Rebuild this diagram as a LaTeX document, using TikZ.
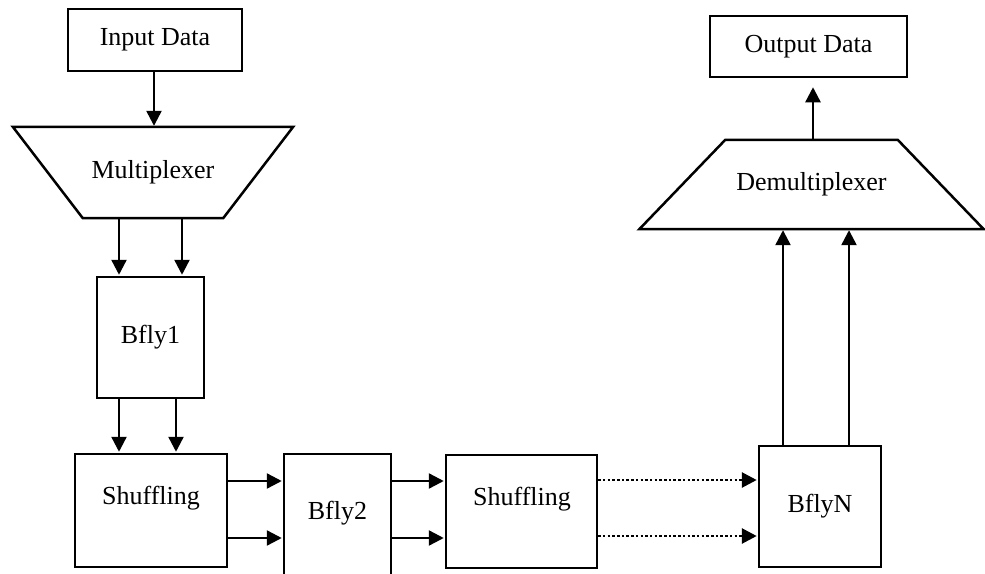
\documentclass[tikz,border=0pt]{standalone}
\usepackage{fontspec}
\setmainfont{Liberation Serif}
\usetikzlibrary{arrows.meta}

\tikzset{
  box/.style={draw, line width=2.5pt, rectangle, inner sep=0pt},
  lbl/.style={inner sep=0pt, font=\fontsize{26}{30}\selectfont},
  arr/.style={line width=2.4pt, shorten >=1pt, -{Triangle[length=15pt, width=15pt]}},
  dotarr/.style={arr, line width=2.8pt, dash pattern=on 2.5pt off 2.2pt},
  trap/.style={line width=2.5pt, line join=miter},
}

\begin{document}
\begin{tikzpicture}[x=1pt, y=-1pt]
  \useasboundingbox (0,0) rectangle (985,573);
  \clip (0,0) rectangle (985,573);

  % input and multiplexer
  \node[box, lbl, minimum width=174pt, minimum height=62pt] (inp) at (155,40) {Input Data};
  \node[lbl, minimum width=280pt, minimum height=91pt] (mux) at (153,172.5) {Multiplexer};
  \draw[trap]
    (mux.north west) -- (mux.north east) -- ([xshift=-70pt]mux.south east)
    -- ([xshift=70pt]mux.south west) -- cycle;

  % butterfly and shuffle stages
  \node[box, lbl, minimum width=107pt, minimum height=121pt] (bfly1) at (150.5,337.5) {Bfly1};
  \node[box, minimum width=152pt, minimum height=113pt] (shuf1) at (151,510.5) {};
  \node[lbl] (shuf1-t) at (151,498) {Shuffling};
  \node[box, minimum width=107pt, minimum height=136pt] (bfly2) at (337.5,522) {};
  \node[lbl] (bfly2-t) at (337.5,513) {Bfly2};
  \node[box, minimum width=151pt, minimum height=113pt] (shuf2) at (521.5,511.5) {};
  \node[lbl] (shuf2-t) at (522,499) {Shuffling};
  \node[box, lbl, minimum width=122pt, minimum height=121pt] (bflyn) at (820,506.5) {BflyN};

  % demultiplexer and output
  \node[lbl, minimum width=344pt, minimum height=89pt] (demux) at (811.5,184.5) {Demultiplexer};
  \draw[trap]
    (demux.south west) -- (demux.south east) -- ([xshift=-86pt]demux.north east)
    -- ([xshift=86pt]demux.north west) -- cycle;
  \node[box, lbl, minimum width=197pt, minimum height=61pt] (out) at (808.5,46.5) {Output Data};

  % connectors
  \draw[arr] (154,0 |- inp.south) -- (154,0 |- mux.north);
  \draw[arr] (119,0 |- mux.south) -- (119,0 |- bfly1.north);
  \draw[arr] (182,0 |- mux.south) -- (182,0 |- bfly1.north);
  \draw[arr] (119,0 |- bfly1.south) -- (119,0 |- shuf1.north);
  \draw[arr] (176,0 |- bfly1.south) -- (176,0 |- shuf1.north);
  \draw[arr] (shuf1.east |- 0,481) -- (bfly2.west |- 0,481);
  \draw[arr] (shuf1.east |- 0,538) -- (bfly2.west |- 0,538);
  \draw[arr] (bfly2.east |- 0,481) -- (shuf2.west |- 0,481);
  \draw[arr] (bfly2.east |- 0,538) -- (shuf2.west |- 0,538);
  \draw[dotarr] (shuf2.east |- 0,480) -- (bflyn.west |- 0,480);
  \draw[dotarr] (shuf2.east |- 0,536) -- (bflyn.west |- 0,536);
  \draw[arr] (783,0 |- bflyn.north) -- (783,0 |- demux.south);
  \draw[arr] (849,0 |- bflyn.north) -- (849,0 |- demux.south);
  \draw[arr, shorten >=9pt] (813,0 |- demux.north) -- (813,0 |- out.south);
\end{tikzpicture}
\end{document}
